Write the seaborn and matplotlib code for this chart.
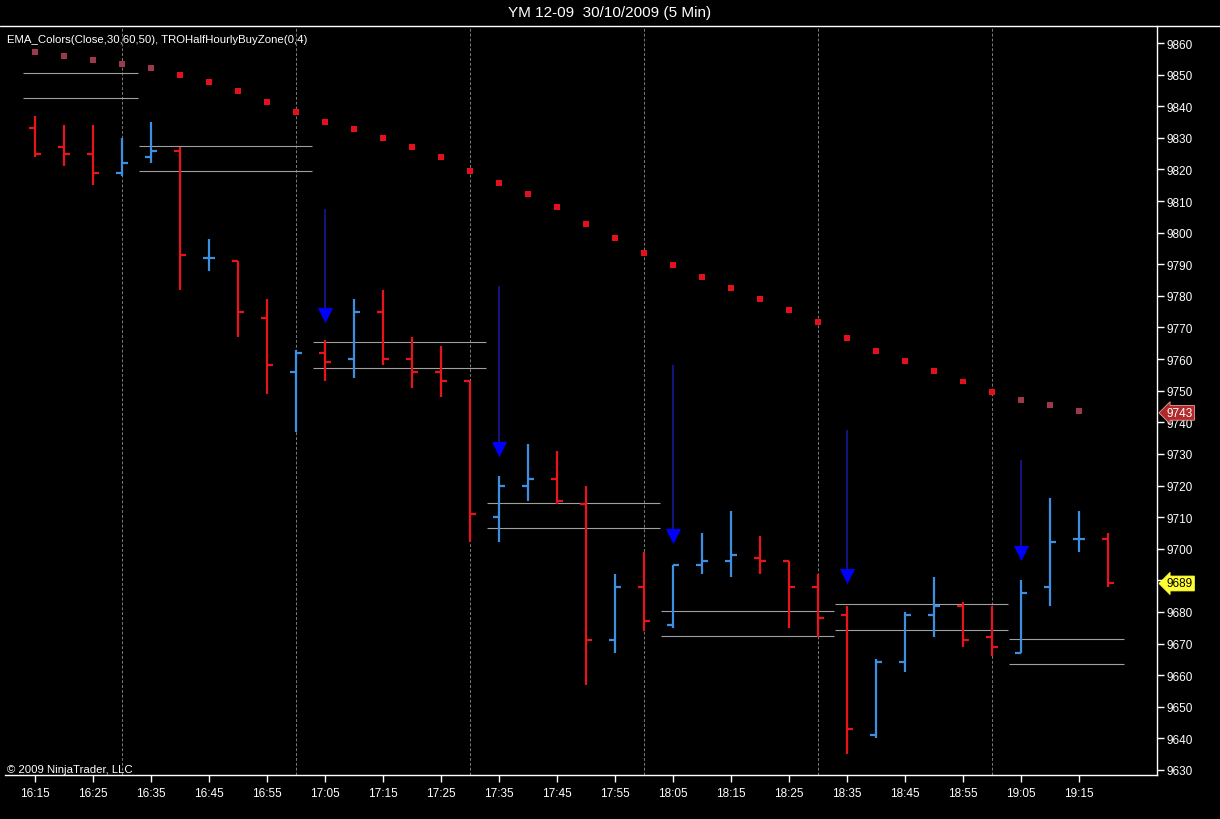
import matplotlib
matplotlib.use('Agg')
import matplotlib.pyplot as plt
import matplotlib.transforms as mtransforms
from matplotlib.lines import Line2D
import seaborn as sns
import pandas as pd
import numpy as np

# --- data (YM 12-09, 5 min bars) ---
times = ['16:15', '16:20', '16:25', '16:30', '16:35', '16:40', '16:45', '16:50',
         '16:55', '17:00', '17:05', '17:10', '17:15', '17:20', '17:25', '17:30',
         '17:35', '17:40', '17:45', '17:50', '17:55', '18:00', '18:05', '18:10',
         '18:15', '18:20', '18:25', '18:30', '18:35', '18:40', '18:45', '18:50',
         '18:55', '19:00', '19:05', '19:10', '19:15', '19:20']
opens = [9833, 9827, 9825, 9819, 9824, 9826, 9792, 9791, 9773, 9756, 9762, 9760,
         9775, 9760, 9756, 9753, 9710, 9720, 9722, 9714, 9671, 9688, 9676, 9695,
         9696, 9697, 9696, 9688, 9679, 9641, 9664, 9679, 9682, 9672, 9667, 9688,
         9703, 9703]
highs = [9837, 9834, 9834, 9830, 9835, 9827, 9798, 9791, 9779, 9763, 9766, 9779,
         9782, 9767, 9764, 9753, 9723, 9733, 9731, 9720, 9692, 9699, 9695, 9705,
         9712, 9704, 9696, 9692, 9682, 9665, 9680, 9691, 9683, 9682, 9690, 9716,
         9712, 9705]
lows = [9824, 9821, 9815, 9818, 9822, 9782, 9788, 9767, 9749, 9737, 9753, 9754,
        9758, 9751, 9748, 9702, 9702, 9715, 9714, 9657, 9667, 9674, 9675, 9692,
        9691, 9692, 9675, 9672, 9635, 9640, 9661, 9672, 9669, 9666, 9667, 9682,
        9699, 9688]
closes = [9825, 9825, 9819, 9822, 9826, 9793, 9792, 9775, 9758, 9762, 9759, 9775,
          9760, 9756, 9753, 9711, 9720, 9722, 9715, 9671, 9688, 9677, 9695, 9696,
          9698, 9696, 9688, 9678, 9643, 9664, 9679, 9682, 9671, 9669, 9686, 9702,
          9703, 9689]

# EMA dots (one per bar except the last one)
ema = [9857.3, 9856.0, 9854.7, 9853.5, 9852.1, 9850.0, 9847.8, 9844.9, 9841.4,
       9838.3, 9835.0, 9832.8, 9829.9, 9827.2, 9824.0, 9819.6, 9815.7, 9812.2,
       9808.2, 9802.7, 9798.4, 9793.6, 9789.9, 9786.0, 9782.5, 9779.0, 9775.6,
       9771.7, 9766.7, 9762.7, 9759.4, 9756.3, 9752.9, 9749.7, 9747.1, 9745.5,
       9743.7]
ema_dim_idx = [0, 1, 2, 3, 4, 34, 35, 36]

# half hourly buy zones
zone_start = [-0.42, 3.6, 9.6, 15.6, 21.6, 27.6, 33.6]
zone_end = [3.54, 9.55, 15.55, 21.55, 27.55, 33.55, 37.55]
zone_upper = [9850.5, 9827.3, 9765.3, 9714.4, 9680.2, 9682.4, 9671.4]
zone_lower = [9842.5, 9819.4, 9757.3, 9706.5, 9672.3, 9674.2, 9663.5]

# signal arrows
arrow_idx = [10, 16, 22, 28, 34]
arrow_top = [9807.5, 9783.0, 9758.0, 9737.5, 9728.0]
arrow_tip = [9774.0, 9731.5, 9704.0, 9691.5, 9698.5]

# half hour separators (bar index)
session_idx = [3, 9, 15, 21, 27, 33]

price_ticks = list(range(9630, 9861, 10))
last_ema = 9743
last_price = 9689

BLUE = '#3d8fe2'
RED = '#e8141c'

bars = pd.DataFrame({'time': times, 'open': opens, 'high': highs,
                     'low': lows, 'close': closes})
bars['x'] = np.arange(len(bars))
bars['color'] = np.where(bars['close'] >= bars['open'], BLUE, RED)

ema_df = pd.DataFrame({'x': np.arange(len(ema)), 'ema': ema})
ema_df['shade'] = np.where(ema_df['x'].isin(ema_dim_idx), 'dim', 'bright')

sns.set_style('dark', {'axes.facecolor': 'black', 'figure.facecolor': 'black'})
plt.rcParams['font.family'] = ['Liberation Sans', 'DejaVu Sans']

fig = plt.figure(figsize=(12.2, 8.2), dpi=100)
fig.patch.set_facecolor('black')
ax = fig.add_axes([5 / 1220, 44 / 820, 1152 / 1220, 749 / 820])
ax.set_facecolor('black')

# separators
for i in session_idx:
    ax.axvline(i, color='#7a7a7a', lw=0.7, ls=(0, (3, 2)), zorder=1)

# buy zones
ax.hlines(zone_upper, zone_start, zone_end, colors='#a0a0a0', lw=0.8, zorder=2)
ax.hlines(zone_lower, zone_start, zone_end, colors='#a0a0a0', lw=0.8, zorder=2)

# OHLC bars
ax.vlines(bars['x'], bars['low'], bars['high'], colors=bars['color'], lw=1.6, zorder=3)
ax.hlines(bars['open'], bars['x'] - 0.22, bars['x'], colors=bars['color'], lw=1.6, zorder=3)
ax.hlines(bars['close'], bars['x'], bars['x'] + 0.22, colors=bars['color'], lw=1.6, zorder=3)

# EMA dots
sns.scatterplot(data=ema_df, x='x', y='ema', hue='shade',
                palette={'bright': '#e3101e', 'dim': '#9c3a4a'},
                marker='s', s=18, linewidth=0, legend=False, ax=ax, zorder=4)

# arrows
ax.vlines(arrow_idx, arrow_tip, arrow_top, colors='#1a1aa8', lw=1.1, zorder=4)
sns.scatterplot(x=arrow_idx, y=arrow_tip, marker='v', s=120, color='#0000ff',
                linewidth=0, legend=False, ax=ax, zorder=5)

ax.set_xlim(-1.034, 38.69)
ax.set_ylim(9628.4, 9865.4)
ax.set_xlabel('')
ax.set_ylabel('')

ax.set_xticks(bars['x'][::2])
ax.set_xticklabels(bars['time'][::2])
ax.set_yticks(price_ticks)
# the tick label under the last price marker is hidden by the marker
ax.set_yticklabels(['' if abs(t - last_price) < 5 else str(t) for t in price_ticks])
ax.yaxis.tick_right()
ax.tick_params(axis='x', colors='white', direction='out', length=5, width=1,
               labelsize=8.5, pad=4, bottom=True)
ax.tick_params(axis='y', colors='white', direction='out', length=5, width=1,
               labelsize=8.5, pad=2, right=True, left=False)
ax.grid(False)

for side in ['left', 'top']:
    ax.spines[side].set_visible(False)
for side in ['right', 'bottom']:
    ax.spines[side].set_visible(True)
    ax.spines[side].set_color('white')
    ax.spines[side].set_linewidth(1)

# top rule under title
fig.add_artist(Line2D([0, 1], [793 / 820, 793 / 820], color='white', lw=1))

# price markers on axis
trans = mtransforms.blended_transform_factory(ax.transAxes, ax.transData)
ax.text(1.0085, last_ema, str(last_ema), transform=trans, ha='left', va='center',
        fontsize=8.5, color='white', clip_on=False, zorder=6,
        bbox=dict(boxstyle='larrow,pad=0.12', fc='#b02a2a', ec='#e8a0a0', lw=0.6))
ax.text(1.0085, last_price, str(last_price), transform=trans, ha='left', va='center',
        fontsize=8.5, color='black', clip_on=False, zorder=6,
        bbox=dict(boxstyle='larrow,pad=0.12', fc='#ffff33', ec='#ffff33', lw=0.6))

fig.text(0.5, (820 - 13) / 820, 'YM 12-09  30/10/2009 (5 Min)', ha='center',
         va='center', color='white', fontsize=11)
fig.text(7 / 1220, (820 - 40) / 820, 'EMA_Colors(Close,30,60,50), TROHalfHourlyBuyZone(0,4)',
         ha='left', va='center', color='white', fontsize=8.2)
fig.text(7 / 1220, (820 - 770) / 820, '\u00a9 2009 NinjaTrader, LLC',
         ha='left', va='center', color='white', fontsize=8.2)

fig.savefig('out.png', dpi=100, facecolor='black')
